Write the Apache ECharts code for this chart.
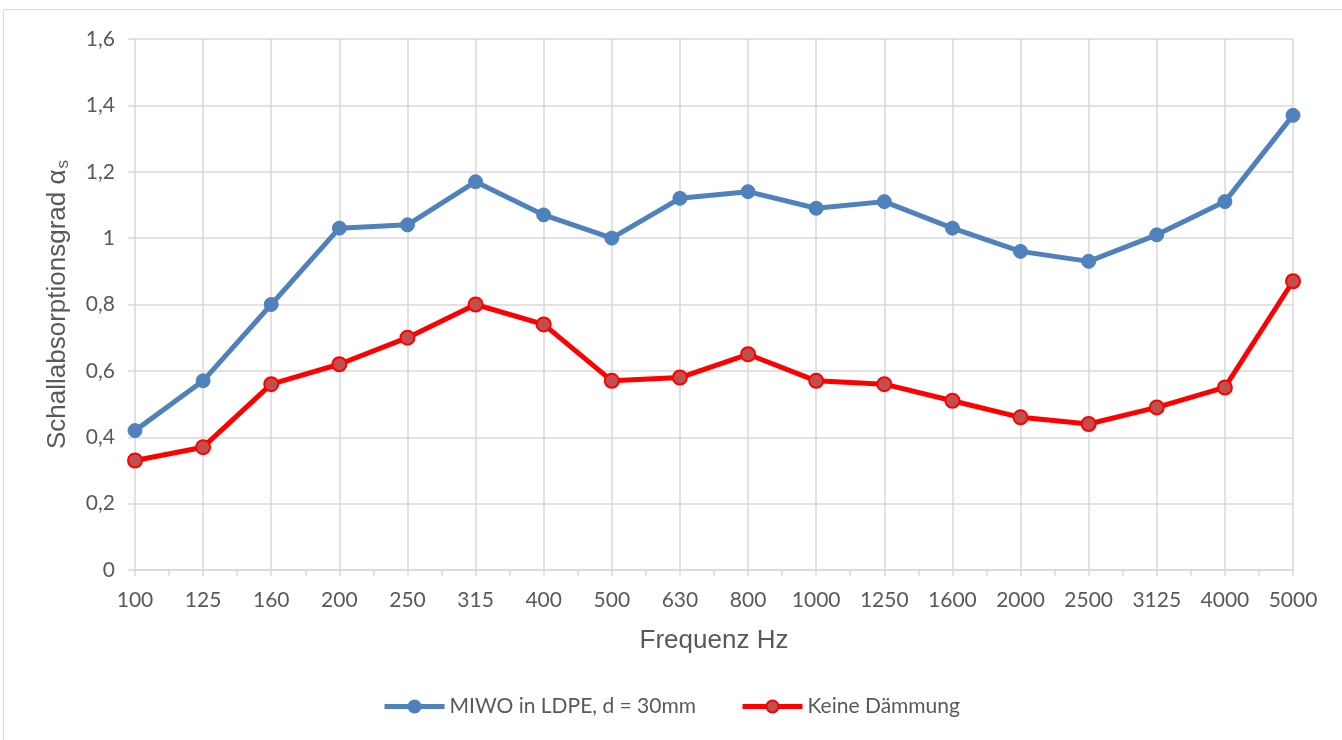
<!DOCTYPE html>
<html>
<head>
<meta charset="utf-8">
<script src="https://cdn.jsdelivr.net/npm/echarts@6/dist/echarts.min.js"></script>
<style>
  html, body { margin: 0; padding: 0; background: #fff; }
  #chart { width: 1342px; height: 740px; }
</style>
</head>
<body>
<div id="chart"></div>
<script>
// Frequenzen (Hz)
const categories = ['100', '125', '160', '200', '250', '315', '400', '500', '630', '800',
  '1000', '1250', '1600', '2000', '2500', '3125', '4000', '5000']
// MIWO in LDPE, d = 30mm
const miwoValues = [0.42, 0.57, 0.80, 1.03, 1.04, 1.17, 1.07, 1.00, 1.12, 1.14,
  1.09, 1.11, 1.03, 0.96, 0.93, 1.01, 1.11, 1.37]
// Keine Dämmung
const keineValues = [0.33, 0.37, 0.56, 0.62, 0.70, 0.80, 0.74, 0.57, 0.58, 0.65,
  0.57, 0.56, 0.51, 0.46, 0.44, 0.49, 0.55, 0.87]

// Zwischenstriche wie in Excel (auch zwischen den Kategorien)
const tickSlots = categories.flatMap((c, i) => (i ? ['', c] : [c]))

const gridColor = '#d9d9d9'
const textColor = '#595959'

const chart = echarts.init(document.getElementById('chart'))
chart.setOption({
  backgroundColor: '#fff',
  animation: false,
  graphic: [{
    type: 'rect',
    shape: { x: 3.5, y: 9.5, width: 1400, height: 800 },
    style: { fill: 'none', stroke: gridColor, lineWidth: 1 },
    silent: true
  }],
  grid: { left: 135, right: 49, top: 39, bottom: 170 },
  legend: {
    bottom: 18,
    left: 'center',
    itemWidth: 60,
    itemHeight: 15,
    itemGap: 44,
    lineStyle: { width: 5 },
    textStyle: { color: textColor, fontSize: 21, fontFamily: 'Lato' },
    data: ['MIWO in LDPE, d = 30mm', 'Keine Dämmung']
  },
  xAxis: [{
    type: 'category',
    data: categories,
    boundaryGap: false,
    name: 'Frequenz Hz',
    nameLocation: 'middle',
    nameGap: 58,
    nameTextStyle: { color: textColor, fontSize: 26, fontFamily: 'Liberation Sans' },
    axisLine: { lineStyle: { color: gridColor, width: 1.5 } },
    axisTick: { show: false },
    axisLabel: { color: textColor, fontSize: 21, fontFamily: 'Lato', margin: 20 },
    splitLine: { show: true, lineStyle: { color: gridColor, width: 1.5 } }
  }, {
    type: 'category',
    data: tickSlots,
    boundaryGap: false,
    position: 'bottom',
    axisLine: { show: false },
    axisTick: { show: true, length: 6, interval: 0, lineStyle: { color: gridColor, width: 1.5 } },
    axisLabel: { show: false },
    splitLine: { show: false }
  }],
  yAxis: {
    type: 'value',
    min: 0,
    max: 1.6,
    interval: 0.2,
    name: '{n|Schallabsorptionsgrad α}{s|s}',
    nameLocation: 'middle',
    nameGap: 63,
    nameTextStyle: {
      color: textColor,
      fontFamily: 'Liberation Sans',
      rich: {
        n: { fontSize: 26, color: textColor, fontFamily: 'Liberation Sans' },
        s: { fontSize: 17, color: textColor, fontFamily: 'Liberation Sans', verticalAlign: 'bottom', padding: [12, 0, 0, 1] }
      }
    },
    axisLine: { show: false },
    axisTick: { show: true, length: 7, lineStyle: { color: gridColor, width: 1.5 } },
    axisLabel: {
      color: textColor,
      fontSize: 21,
      fontFamily: 'Lato',
      margin: 20,
      formatter: v => String(Math.round(v * 10) / 10).replace('.', ',')
    },
    splitLine: { lineStyle: { color: gridColor, width: 1.5 } }
  },
  series: [{
    name: 'MIWO in LDPE, d = 30mm',
    type: 'line',
    data: miwoValues,
    symbol: 'circle',
    symbolSize: 14,
    lineStyle: { color: '#4F81BD', width: 5 },
    itemStyle: { color: '#4F81BD', borderColor: '#4F81BD', borderWidth: 1 }
  }, {
    name: 'Keine Dämmung',
    type: 'line',
    data: keineValues,
    symbol: 'circle',
    symbolSize: 14,
    lineStyle: { color: '#FF0000', width: 5 },
    itemStyle: { color: '#C0504D', borderColor: '#FF0000', borderWidth: 2 }
  }]
})
</script>
</body>
</html>
